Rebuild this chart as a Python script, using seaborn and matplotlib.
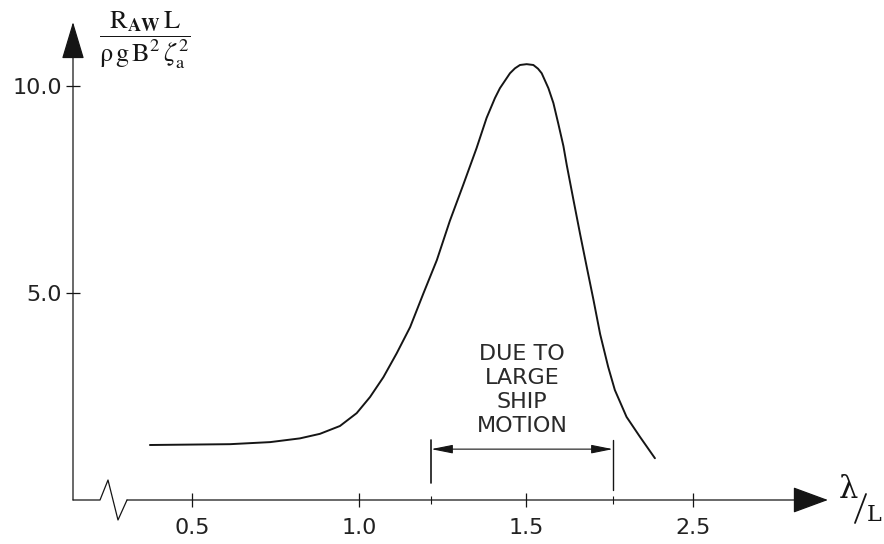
import numpy as np
import pandas as pd
import matplotlib
matplotlib.use("Agg")
import matplotlib.pyplot as plt
from matplotlib.lines import Line2D
import seaborn as sns

# ---- data ----
wave_ratio = [0.374, 0.494, 0.614, 0.734, 0.823, 0.883, 0.943, 0.993, 1.033, 1.073,
              1.113, 1.153, 1.193, 1.233, 1.272, 1.312, 1.352, 1.382, 1.407, 1.422,
              1.452, 1.467, 1.482, 1.502, 1.522, 1.536, 1.547, 1.567, 1.582, 1.597,
              1.612, 1.622, 1.642, 1.662, 1.682, 1.702, 1.722, 1.746, 1.766, 1.801,
              1.841, 1.886]
resistance = [1.33, 1.34, 1.35, 1.40, 1.49, 1.60, 1.79, 2.10, 2.49, 2.97,
              3.55, 4.18, 5.00, 5.80, 6.75, 7.62, 8.51, 9.24, 9.72, 9.96,
              10.32, 10.44, 10.52, 10.54, 10.52, 10.43, 10.32, 9.96, 9.60, 9.09,
              8.56, 8.10, 7.26, 6.43, 5.63, 4.84, 4.01, 3.22, 2.66, 2.01,
              1.53, 1.01]
x_tick_values = [0.5, 1.0, 1.5, 2.0]
x_tick_labels = ["0.5", "1.0", "1.5", "2.5"]
y_tick_values = [5.0, 10.0]
y_tick_labels = ["5.0", "10.0"]
bracket_range = [1.216, 1.760]
annotation_text = "DUE TO\nLARGE\nSHIP\nMOTION"
y_label = r"$\dfrac{\mathrm{R_{\mathbf{AW}}\,L}}{\mathrm{\rho}\,\mathrm{g\,B^{2}}\,\zeta_{\mathrm{a}}^{2}}$"
x_label_num, x_label_den = "λ", "L"

sns.set_theme(style="white")
plt.rcParams["font.family"] = ["DejaVu Sans"]
plt.rcParams["mathtext.fontset"] = "stix"

W, H = 884, 544
fig = plt.figure(figsize=(W / 100, H / 100), dpi=100)
fig.patch.set_facecolor("white")
ax = fig.add_axes([73 / W, 44 / H, (827 - 73) / W, (500 - 20) / H])
ax.set_facecolor("white")

ink = "#151515"
df = pd.DataFrame({"x": wave_ratio, "y": resistance})
sns.lineplot(data=df, x="x", y="y", ax=ax, color=ink, lw=1.4, sort=True)

x0, x1 = 0.1437, 2.4012
ax.set_xlim(x0, x1)
ax.set_ylim(0, 11.608)
for s in ax.spines.values():
    s.set_visible(False)
ax.set_xlabel("")
ax.set_ylabel("")

ax.set_xticks(x_tick_values, labels=x_tick_labels)
ax.set_xticks(bracket_range, minor=True)
ax.set_yticks(y_tick_values, labels=y_tick_labels)
ax.tick_params(axis="both", which="major", bottom=True, left=True,
               direction="inout", length=10, width=0.9, color=ink,
               labelsize=16, labelcolor="#222222")
ax.tick_params(axis="x", which="major", pad=8)
ax.tick_params(axis="y", which="major", pad=3)
ax.tick_params(axis="x", which="minor", bottom=True, direction="inout",
               length=6, width=0.8, color=ink)

# x axis with break symbol
ax.plot([x0, 0.2246, 0.2485, 0.2784, 0.3054], [0, 0, 0.483, -0.483, 0],
        color=ink, lw=0.9, clip_on=False)
ax.annotate("", xy=(2.404, 0), xytext=(0.3054, 0), xycoords="data",
            arrowprops=dict(arrowstyle="-|>,head_length=1.9,head_width=0.7",
                            lw=0.9, color=ink, shrinkA=0, shrinkB=0),
            annotation_clip=False)
# y axis
ax.annotate("", xy=(x0, 11.56), xytext=(x0, 0), xycoords="data",
            arrowprops=dict(arrowstyle="-|>,head_length=2.0,head_width=0.6",
                            lw=0.9, color=ink, shrinkA=0, shrinkB=0),
            annotation_clip=False)

# bracket "due to large ship motion"
ax.plot([bracket_range[0]] * 2, [0.41, 1.45], color=ink, lw=1.2, clip_on=False)
ax.plot([bracket_range[1]] * 2, [0.24, 1.45], color=ink, lw=1.0, clip_on=False)
ax.annotate("", xy=(bracket_range[0], 1.23), xytext=(bracket_range[1], 1.23),
            arrowprops=dict(arrowstyle="<|-|>,head_length=1.1,head_width=0.22",
                            lw=0.8, color=ink, shrinkA=0, shrinkB=0),
            annotation_clip=False)
ax.text(np.mean(bracket_range), 2.65, annotation_text, ha="center", va="center",
        fontsize=16, linespacing=1.25, color="#2a2a2a")

# axis titles
ax.annotate(y_label, xy=(145, H - 40), xycoords="figure pixels",
            ha="center", va="center", fontsize=19, color=ink)
ax.annotate(x_label_num, xy=(848, H - 489), xycoords="figure pixels",
            ha="center", va="center", fontsize=22, color=ink,
            family=["DejaVu Serif"])
ax.annotate(x_label_den, xy=(874, H - 515), xycoords="figure pixels",
            ha="center", va="center", fontsize=16, color=ink,
            family=["DejaVu Serif"])
fig.add_artist(Line2D([855 / W, 866 / W], [1 - 523 / H, 1 - 494 / H],
                      color=ink, lw=1.3))

fig.savefig("out.png", dpi=100, facecolor="white")
